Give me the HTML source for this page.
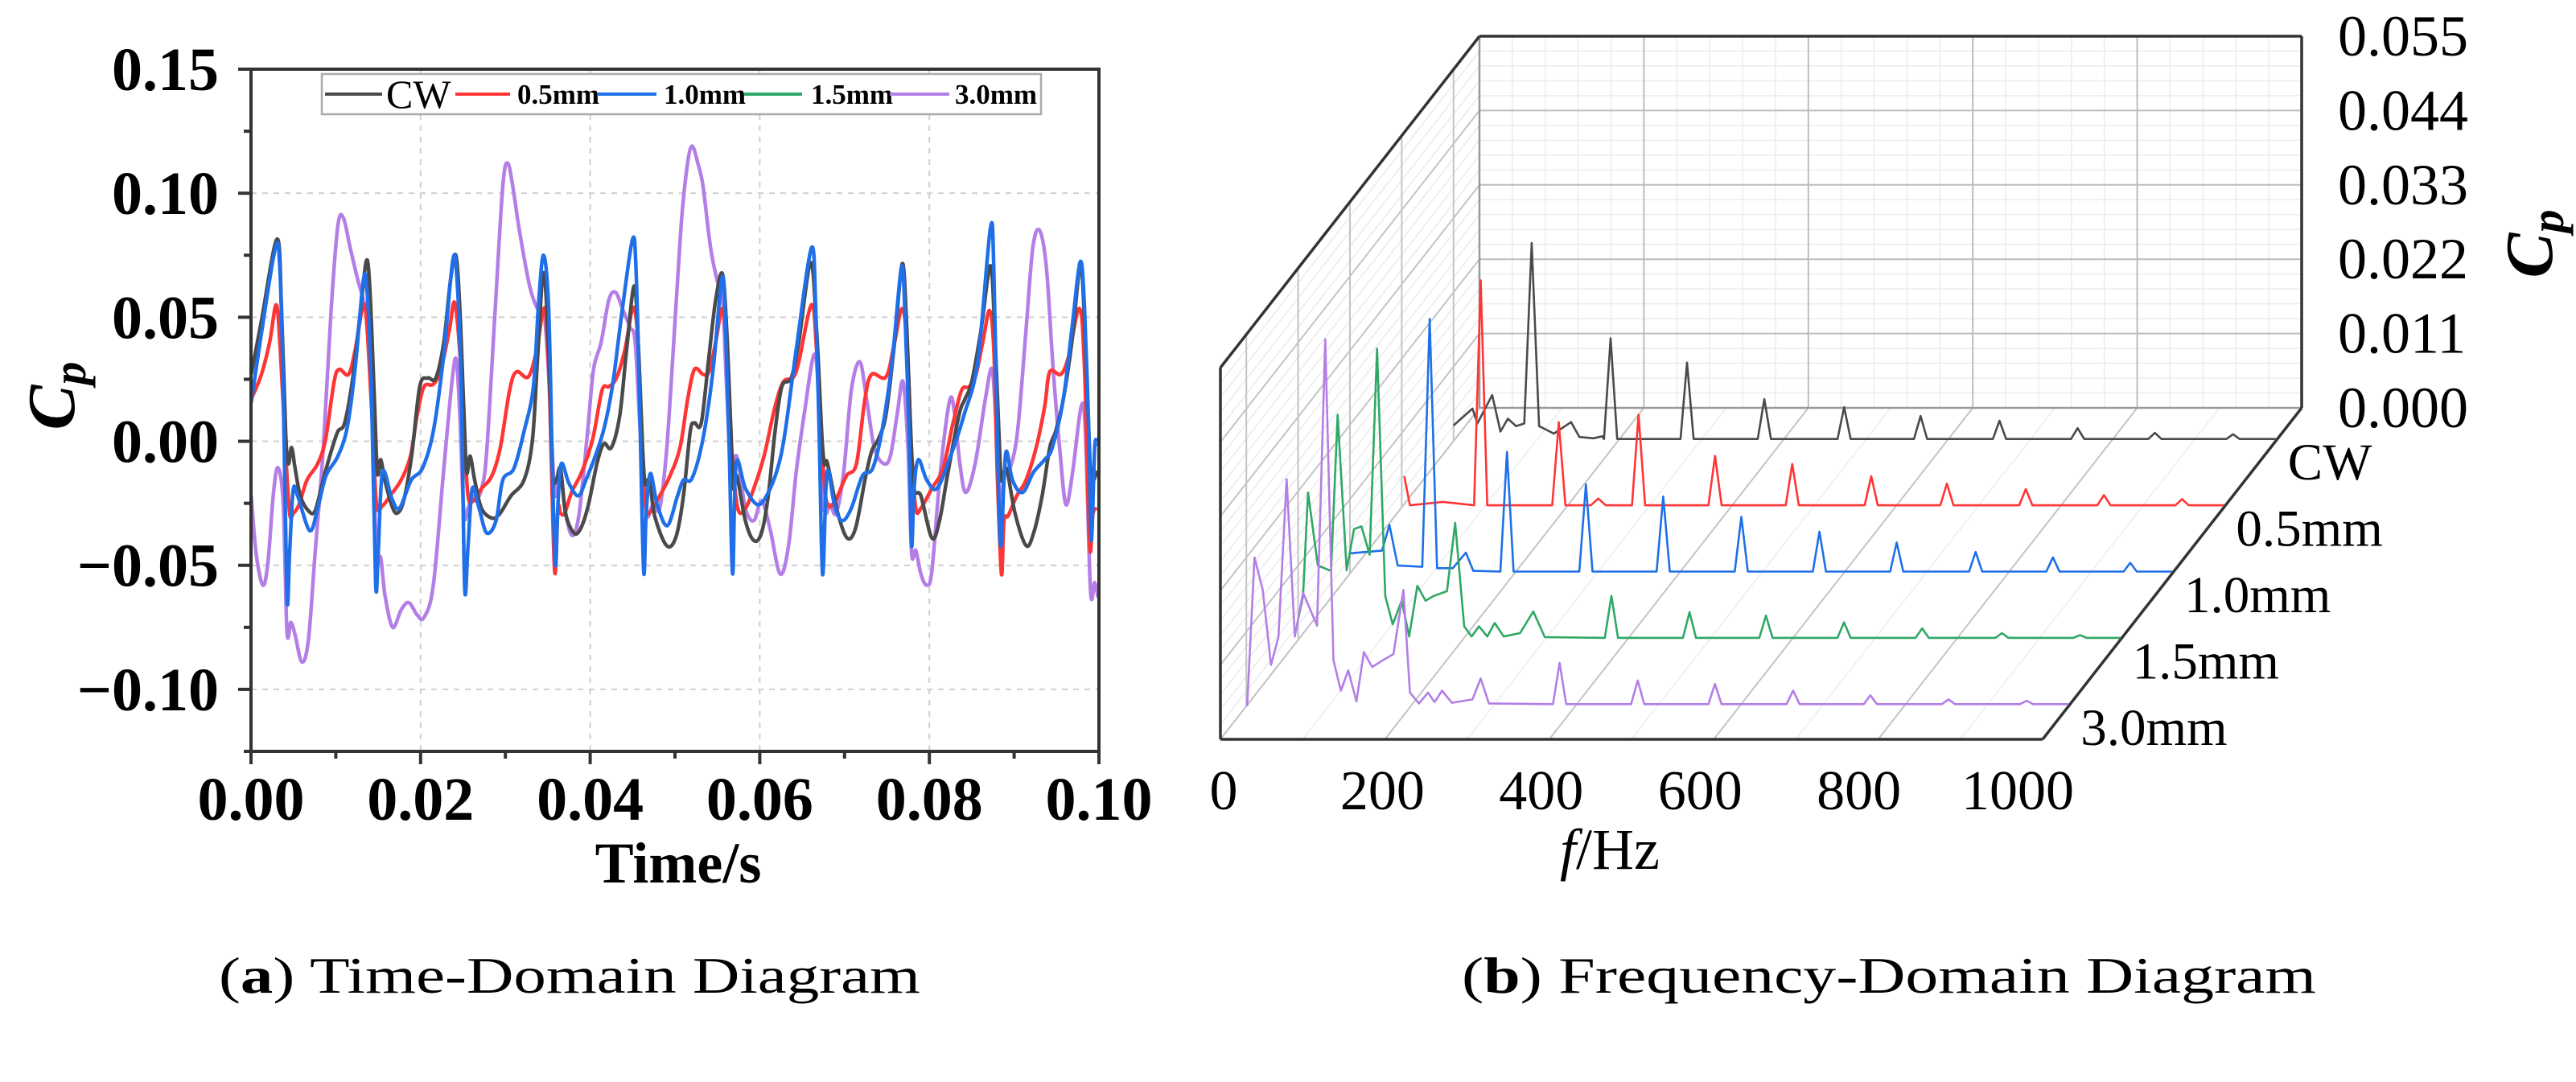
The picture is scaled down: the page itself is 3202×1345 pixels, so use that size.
<!DOCTYPE html>
<html><head><meta charset="utf-8"><title>Cp time and frequency domain</title>
<style>
html,body{margin:0;padding:0;background:#fff;}
svg{display:block;}
.serif{font-family:"Liberation Serif","DejaVu Serif",serif;}
</style></head>
<body>
<svg id="fig" width="3202" height="1345" viewBox="0 0 3202 1345" xmlns="http://www.w3.org/2000/svg" class="serif">
<rect x="0" y="0" width="3202" height="1345" fill="#fff"/>
<defs><clipPath id="plotClip"><rect x="312" y="86" width="1054" height="848"/></clipPath></defs>
<g id="left"></g>
<g id="right"></g>
<text x="272" y="1234" font-size="64" textLength="872" lengthAdjust="spacingAndGlyphs">(<tspan font-weight="bold">a</tspan>) Time-Domain Diagram</text>
<text x="1817" y="1234" font-size="64" textLength="1062" lengthAdjust="spacingAndGlyphs">(<tspan font-weight="bold">b</tspan>) Frequency-Domain Diagram</text>
</svg>
<script>
// ---------- Time-domain data (t in ms, Cp) ----------
const seriesNames = ["CW","0.5mm","1.0mm","1.5mm","3.0mm"];
const xTicks = [0,0.02,0.04,0.06,0.08,0.10];
const xTickLabels = ["0.00","0.02","0.04","0.06","0.08","0.10"];
const yTicks = [0.15,0.10,0.05,0.00,-0.05,-0.10];
const yTickLabels = ["0.15","0.10","0.05","0.00","\u22120.05","\u22120.10"];

const cwT = [0.03,1.23,3.07,3.6,4.08,4.4,4.78,5.19,5.82,6.77,7.56,8.51,9.46,10.25,11.04,12.0,12.94,13.63,14.04,14.52,14.9,15.3,15.78,16.57,17.2,18.0,18.94,19.9,20.84,21.79,22.74,23.53,24.16,24.63,25.1,25.43,25.84,26.38,27.17,28.43,29.38,30.65,32.2,33.2,
33.8,34.5,35.1,35.55,36.0,36.5,37.1,38.1,38.9,39.8,40.8,41.6,42.5,43.5,44.3,45.2,45.7,46.2,46.5,47.0,47.6,49.0,50.1,51.0,51.8,52.3,53.1,54.0,54.8,55.6,56.1,56.6,56.9,57.3,58.3,59.3,60.2,61.0,61.8,62.6,63.7,64.6,66.0,66.7,67.3,67.6,
67.9,68.4,69.2,70.3,71.3,72.4,73.2,74.0,74.9,75.9,76.8,77.3,77.8,78.2,79.0,80.3,81.2,82.2,83.5,84.2,85.0,86.1,87.2,87.7,88.2,88.5,89.1,90.1,91.4,92.3,93.3,94.2,94.9,95.8,96.8,97.8,98.3,98.8,99.1,99.8];
const cwV = [0.027,0.0486,0.0815,0.0535,0.004,-0.009,-0.0025,-0.0107,-0.022,-0.028,-0.028,-0.0156,-0.004,0.004,0.0074,0.0255,0.0535,0.073,0.06,0.02,-0.0124,-0.0074,-0.0156,-0.0255,-0.029,-0.024,-0.006,0.022,0.0255,0.0255,0.040,0.065,0.075,0.0535,0.0124,-0.0124,-0.006,-0.0156,-0.027,-0.031,-0.029,-0.022,-0.0156,0.0008,
0.034,0.068,0.037,-0.012,-0.0156,-0.011,-0.029,-0.037,-0.035,-0.0255,-0.009,-0.001,-0.0025,0.0107,0.037,0.0626,0.037,-0.004,-0.0173,-0.0156,-0.030,-0.042,-0.0387,-0.022,0.004,0.0074,0.0074,0.034,0.057,0.0675,0.045,0.004,-0.019,-0.014,-0.032,-0.040,-0.037,-0.022,0.004,0.022,0.0255,0.040,0.072,0.045,0.004,-0.009,
-0.008,-0.0156,-0.029,-0.039,-0.035,-0.0156,-0.004,0.001,0.011,0.040,0.0716,0.0486,0.004,-0.019,-0.022,-0.039,-0.032,-0.0124,0.0107,0.017,0.024,0.045,0.0708,0.045,0.004,-0.0156,-0.011,-0.029,-0.042,-0.037,-0.022,-0.0025,0.004,0.017,0.040,0.0708,0.0486,0.004,-0.0156,-0.012];

const redT = [0.03,1.23,2.2,2.98,3.45,4.08,4.55,5.0,5.66,6.6,7.87,8.8,9.8,10.4,11.5,12.3,13.25,13.7,14.36,14.8,15.5,16.4,17.7,18.8,19.6,20.4,21.5,22.4,23.4,24.0,24.6,25.1,25.6,26.2,27.2,28.4,29.4,30.5,31.3,32.7,33.7,34.4,
34.8,35.2,35.8,36.2,36.5,37.0,37.8,39.0,40.3,41.4,42.2,43.1,44.1,45.1,45.7,46.1,46.6,47.2,48.2,49.4,50.6,51.5,52.3,53.3,54.0,54.8,55.6,56.1,56.7,57.4,58.3,59.3,60.5,61.8,62.8,63.9,64.6,66.1,66.7,67.5,68.0,
68.9,70.2,71.4,72.4,73.2,74.9,75.9,76.8,77.4,77.9,78.4,79.0,80.3,81.6,82.8,83.8,84.7,85.5,86.3,87.1,87.6,88.0,88.5,88.8,89.3,90.3,91.4,92.6,93.6,94.2,95.5,96.4,97.7,98.3,98.9,99.3,99.8];
const redV = [0.017,0.027,0.040,0.055,0.037,-0.004,-0.029,-0.029,-0.0255,-0.0156,-0.009,0.001,0.024,0.029,0.027,0.037,0.055,0.045,0.004,-0.0255,-0.026,-0.022,-0.0156,-0.006,0.0107,0.022,0.023,0.029,0.045,0.056,0.037,0.004,-0.022,-0.024,-0.019,-0.014,-0.0025,0.0206,0.028,0.026,0.037,0.052,
0.050,0.0206,-0.052,-0.027,-0.029,-0.029,-0.0206,-0.0124,0.001,0.0206,0.022,0.0255,0.037,0.054,0.037,-0.004,-0.027,-0.028,-0.022,-0.014,-0.0025,0.017,0.029,0.027,0.028,0.040,0.0535,0.037,-0.004,-0.027,-0.027,-0.019,-0.006,0.014,0.024,0.0255,0.032,0.055,0.037,-0.012,-0.0255,
-0.024,-0.014,-0.009,0.017,0.027,0.026,0.040,0.0535,0.037,-0.004,-0.027,-0.027,-0.019,-0.011,0.0074,0.0206,0.022,0.027,0.040,0.0527,0.037,-0.012,-0.0535,-0.032,-0.030,-0.022,-0.0156,-0.0025,0.014,0.028,0.027,0.034,0.0535,0.029,-0.042,-0.029,-0.027];

const blueT = [0.03,1.23,2.88,3.4,3.8,4.24,4.55,4.97,5.5,6.93,7.87,8.83,10.25,11.36,12.3,13.25,13.7,14.2,14.7,15.0,15.5,16.6,17.5,18.9,20.2,21.5,22.7,23.8,24.3,24.8,25.2,25.6,26.1,26.9,27.8,28.9,29.7,31.0,32.2,
33.3,33.9,34.5,35.1,35.55,35.9,36.2,36.6,37.5,38.6,39.5,40.6,41.7,42.7,43.8,45.0,45.4,45.8,46.3,46.6,47.1,47.9,49.1,50.3,51.0,52.0,53.3,54.5,55.5,55.9,56.4,56.8,57.2,58.3,59.7,60.8,62.1,63.0,64.3,66.1,
66.6,67.0,67.4,67.8,68.1,68.8,69.7,70.8,72.1,73.3,74.4,75.6,76.7,77.1,77.6,77.9,78.2,78.7,79.7,80.9,82.5,84.1,85.7,87.2,87.6,88.0,88.4,88.8,89.1,89.8,91.0,92.3,93.6,94.5,95.8,96.8,97.8,98.3,98.8,99.1,99.5,99.8];
const blueV = [0.0156,0.0436,0.078,0.070,0.0206,-0.063,-0.045,-0.0198,-0.022,-0.036,-0.027,-0.014,-0.006,0.0058,0.030,0.065,0.060,0.0206,-0.057,-0.045,-0.0124,-0.023,-0.027,-0.0156,-0.011,0.004,0.034,0.073,0.065,0.0206,-0.059,-0.042,-0.019,-0.027,-0.037,-0.032,-0.0156,-0.011,0.004,
0.022,0.055,0.075,0.0535,-0.012,-0.050,-0.0255,-0.009,-0.017,-0.022,-0.0156,-0.006,0.006,0.024,0.0535,0.0815,0.070,0.0206,-0.052,-0.029,-0.013,-0.0255,-0.034,-0.022,-0.0156,-0.015,0.001,0.029,0.065,0.0535,-0.004,-0.0535,-0.009,-0.019,-0.0255,-0.022,-0.011,0.004,0.037,0.078,
0.0535,0.004,-0.0535,-0.019,-0.012,-0.0255,-0.032,-0.027,-0.014,-0.011,0.004,0.032,0.070,0.0535,0.004,-0.042,-0.019,-0.0074,-0.0156,-0.019,-0.006,0.0107,0.032,0.086,0.070,0.004,-0.042,-0.0156,-0.004,-0.0156,-0.0206,-0.0124,-0.0074,-0.0025,0.017,0.045,0.0724,0.0535,0.004,-0.040,-0.0025,-0.001];

const purT = [0.03,0.6,1.4,2.0,2.66,3.2,3.8,4.24,4.7,5.2,6.0,6.77,7.56,8.5,9.46,10.25,10.9,11.7,12.6,13.4,13.9,14.36,14.8,15.3,15.8,16.7,17.7,18.6,19.6,20.4,21.5,22.7,23.7,24.2,24.6,25.1,25.6,26.1,26.5,27.2,27.8,28.8,29.7,30.3,31.0,31.6,32.9,34.0,
34.6,35.2,35.7,36.0,36.5,37.1,37.9,38.7,39.7,40.4,41.3,42.2,43.0,43.8,44.7,45.3,45.9,46.6,47.4,48.2,49.0,49.8,50.7,51.4,52.0,52.7,53.3,54.2,55.1,55.6,56.1,56.6,57.1,57.5,58.3,59.3,60.2,61.2,62.4,63.4,64.3,65.3,66.4,66.9,67.3,67.8,
68.3,69.0,69.9,70.8,71.8,72.6,73.5,74.6,75.4,76.2,76.9,77.5,77.9,78.4,79.0,79.7,80.3,81.3,82.4,83.0,83.6,84.3,85.4,86.6,87.4,87.9,88.4,88.8,89.5,90.4,91.4,92.2,93.0,93.8,94.6,95.4,96.1,96.9,97.9,98.4,99.0,99.5,99.9];
const purV = [-0.022,-0.045,-0.058,-0.0486,-0.0206,-0.0107,-0.0255,-0.0766,-0.073,-0.078,-0.089,-0.080,-0.045,-0.004,0.0535,0.087,0.090,0.078,0.065,0.055,0.0436,0.004,-0.045,-0.047,-0.062,-0.075,-0.068,-0.065,-0.070,-0.071,-0.058,-0.0124,0.024,0.033,0.0124,-0.029,-0.027,-0.022,-0.024,-0.019,-0.004,0.0535,0.103,0.112,0.100,0.086,0.062,0.052,
0.051,0.0206,-0.0156,-0.022,-0.0124,-0.029,-0.038,-0.029,0.004,0.029,0.040,0.057,0.060,0.0535,0.046,0.040,0.004,-0.029,-0.0255,-0.027,-0.004,0.037,0.086,0.110,0.119,0.112,0.103,0.078,0.063,0.058,0.0206,-0.0124,-0.006,-0.009,-0.027,-0.032,-0.024,-0.035,-0.0535,-0.042,-0.0124,0.0124,0.035,0.0206,-0.0206,-0.029,
-0.0255,-0.029,-0.0124,0.0206,0.032,0.017,-0.0025,-0.009,-0.006,0.0107,0.024,-0.004,-0.045,-0.044,-0.0535,-0.058,-0.052,-0.0124,0.0165,0.0107,-0.009,-0.0206,-0.009,0.017,0.029,0.004,-0.029,-0.0124,-0.011,0.004,0.045,0.078,0.085,0.070,0.029,-0.004,-0.0255,-0.0124,0.014,0.004,-0.060,-0.057,-0.063];

// ---------- Frequency-domain data (f in Hz, Cp amplitude) ----------
const zTicks = [0.000,0.011,0.022,0.033,0.044,0.055];
const zTickLabels = ["0.000","0.011","0.022","0.033","0.044","0.055"];
const fTicks = [0,200,400,600,800,1000];
const seriesDepth = [0.9,0.7,0.5,0.3,0.1];

const cwNoiseF = [0,23,29,47,57,66,76,86,95,104,122,143,153,170,181];
const cwNoiseA = [0.0023,0.0048,0.0026,0.0068,0.0014,0.0033,0.0022,0.0026,0.0293,0.0022,0.0011,0.0028,0.0006,0.0004,0.0007];
const cwPeakF = [191,284,378,475,568,664,759,853,948];
const cwPeakA = [0.0152,0.0116,0.0062,0.005,0.0037,0.003,0.0019,0.0012,0.001];

const redNoiseF = [3,10,50,88,96,104,230,239,248];
const redNoiseA = [0.0046,0.0003,0.0008,0.0003,0.0336,0.0003,0.0003,0.0013,0.0003];
const redPeakF = [191,288,381,475,571,663,759,854,949];
const redPeakA = [0.0126,0.0137,0.0076,0.0064,0.0046,0.0035,0.0027,0.0018,0.0012];

const blueNoiseF = [0,39,48,58,88,97,106,125,141,150];
const blueNoiseA = [0.003,0.0034,0.0072,0.0012,0.001,0.0377,0.0008,0.0008,0.0031,0.0004];
const bluePeakF = [191,287,381,476,571,665,761,855,949];
const bluePeakA = [0.018,0.0132,0.0114,0.0084,0.0062,0.0046,0.0032,0.0024,0.0016];

const greenNoiseF = [0,6,12,24,40,48,59,68,77,87,96,106,115,126,135,145,155,165,181,191,202,211,220,230,239,250,270,286,300];
const greenNoiseA = [0.003,0.0065,0.0218,0.011,0.0102,0.0333,0.0103,0.0164,0.0168,0.0126,0.0431,0.0065,0.0023,0.0058,0.0005,0.008,0.0058,0.0065,0.0072,0.0173,0.002,0.0005,0.002,0.0005,0.0025,0.0005,0.001,0.0042,0.0004];
const greenPeakF = [381,476,569,664,759,856,951];
const greenPeakA = [0.0065,0.0041,0.0036,0.0026,0.0017,0.001,0.0007];

const purNoiseF = [1,10,20,30,39,49,59,69,77,86,96,106,115,124,134,143,153,166,179,191,199,210,221,229,238,250,275,285,295];
const purNoiseA = [0,0.022,0.0172,0.0061,0.0102,0.0336,0.0103,0.0168,0.0145,0.0119,0.0543,0.0068,0.0023,0.0053,0.0007,0.008,0.0058,0.0068,0.0077,0.0172,0.002,0.0004,0.002,0.0006,0.0023,0.0005,0.001,0.0041,0.0004];
const purPeakF = [381,476,570,665,759,854,949];
const purPeakA = [0.0064,0.0038,0.0033,0.0023,0.0016,0.001,0.0008];

const colors = {"CW":"#4a4a4a","0.5mm":"#ff3535","1.0mm":"#1f6fe8","1.5mm":"#2fa866","3.0mm":"#b47ee6"};
const NS = "http://www.w3.org/2000/svg";
function mk(tag, attrs, parent){const e=document.createElementNS(NS,tag);for(const k in attrs)e.setAttribute(k,attrs[k]);parent.appendChild(e);return e;}

// ================= LEFT CHART =================
const L = document.getElementById('left');
const PX0=312, PX1=1366, PY0=86, PY1=934;
const xS = t => PX0 + (t/0.1)*(PX1-PX0);          // t in seconds
const yS = v => PY0 + (0.15 - v)/(0.275)*(PY1-PY0);

// grid
const grid = mk('g',{},L);


yTicks.forEach(v=>{ if(v<0.15) mk('line',{x1:PX0,x2:PX1,y1:yS(v),y2:yS(v),stroke:'#cfcfcf','stroke-width':2,'stroke-dasharray':'7,7'},grid);});
xTicks.forEach(t=>{ if(t>0 && t<0.1) mk('line',{x1:xS(t),x2:xS(t),y1:PY0,y2:PY1,stroke:'#cfcfcf','stroke-width':2,'stroke-dasharray':'7,7'},grid);});

// series
const sg = mk('g',{'clip-path':'url(#plotClip)'},L);


function smoothPath(xs, ys){
  let d='M'+xs[0].toFixed(1)+','+ys[0].toFixed(1);
  for(let i=0;i<xs.length-1;i++){
    const x0=xs[Math.max(i-1,0)],y0=ys[Math.max(i-1,0)],x1=xs[i],y1=ys[i],x2=xs[i+1],y2=ys[i+1],x3=xs[Math.min(i+2,xs.length-1)],y3=ys[Math.min(i+2,xs.length-1)];
    const c1x=x1+(x2-x0)/6, c1y=y1+(y2-y0)/6, c2x=x2-(x3-x1)/6, c2y=y2-(y3-y1)/6;
    d+=' C'+c1x.toFixed(1)+','+c1y.toFixed(1)+' '+c2x.toFixed(1)+','+c2y.toFixed(1)+' '+x2.toFixed(1)+','+y2.toFixed(1);
  }
  return d;
}
function drawTime(T,V,name,key){
  const n=Math.min(T.length,V.length);
  const xs=[],ys=[];
  for(let i=0;i<n;i++){xs.push(xS(T[i]/1000));ys.push(yS(V[i]));}
  const p=mk('path',{d:smoothPath(xs,ys),fill:'none',stroke:colors[key],'stroke-width':4.5,'stroke-linejoin':'round'},sg);
  
  
}
drawTime(purT,purV,'line-3-0mm','3.0mm');
drawTime(redT,redV,'line-0-5mm','0.5mm');
drawTime(cwT,cwV,'line-cw','CW');
drawTime(blueT,blueV,'line-1-0mm','1.0mm');

// frame
const frame = mk('rect',{x:PX0,y:PY0,width:PX1-PX0,height:PY1-PY0,fill:'none',stroke:'#333','stroke-width':4},L);



// y ticks & labels
const yax = mk('g',{},L);


for(let k=0;k<=11;k++){const v=0.15-k*0.025; if(v<-0.1251) break;
  const major = Math.abs((v*1000)%50)<1e-6 || Math.abs(Math.abs((v*1000)%50)-50)<1e-6;
  mk('line',{x1:PX0-(major?16:9),x2:PX0,y1:yS(v),y2:yS(v),stroke:'#333','stroke-width':4},yax);}
yTicks.forEach((v,i)=>{
  const t=mk('text',{x:272,y:yS(v)+26,'text-anchor':'end','font-size':76,'font-weight':'bold',fill:'#000'},yax);
  t.textContent=yTickLabels[i];
  
  
});
// x ticks & labels
const xax = mk('g',{},L);


for(let k=0;k<=10;k++){const t=k*0.01; mk('line',{x1:xS(t),x2:xS(t),y1:PY1,y2:PY1+(k%2===0?16:9),stroke:'#333','stroke-width':4},xax);}
xTicks.forEach((v,i)=>{
  const t=mk('text',{x:xS(v),y:1019,'text-anchor':'middle','font-size':76,'font-weight':'bold',fill:'#000'},xax);
  t.textContent=xTickLabels[i];
  
  
});
const xt = mk('text',{x:843,y:1097,'text-anchor':'middle','font-size':72,'font-weight':'bold'},L);
xt.textContent='Time/s';


const yt = mk('text',{x:0,y:0,'text-anchor':'middle','font-size':84,'font-weight':'bold','font-style':'italic',transform:'translate(92,492) rotate(-90)'},L);
yt.innerHTML='C<tspan font-size="58" dy="14">p</tspan>';



// legend
const lg = mk('g',{},L);


mk('rect',{x:400,y:92,width:894,height:50,fill:'#fff',stroke:'#aaa','stroke-width':2.5},lg);
const legendLineX = [404,566,742,925,1106];
const legendLineW = [71,68,74,72,74];
const legendTextX = [480,643,825,1008,1187];
seriesNames.forEach((s,i)=>{
  const ln=mk('line',{x1:legendLineX[i],x2:legendLineX[i]+legendLineW[i],y1:117,y2:117,stroke:colors[s],'stroke-width':4},lg);
  
  
  const tx=mk('text',{x:legendTextX[i],y:i===0?134:129,'font-size':i===0?50:35,'font-weight':i===0?'normal':'bold'},lg);
  tx.textContent=s;
  
  
});

// ================= RIGHT CHART =================
const R = document.getElementById('right');
const OX=1517, OY=919, FW=1.022, DX=322, DY=412, ZS=8400;
const P = (f,d,z) => [OX + f*FW + d*DX, OY - d*DY - z*ZS];
function seg(a,b,st,w,parent){return mk('line',{x1:a[0],y1:a[1],x2:b[0],y2:b[1],stroke:st,'stroke-width':w},parent);}

const rg = mk('g',{},R);


// back wall minor
for(let f=0;f<=1000;f+=40) seg(P(f,1,0),P(f,1,0.055),'#ececec',1.5,rg);
for(let z=0;z<=0.0551;z+=0.0022) seg(P(0,1,z),P(1000,1,z),'#ececec',1.5,rg);
// left wall minor diagonals
for(let z=0;z<=0.0551;z+=0.0022) seg(P(0,0,z),P(0,1,z),'#eaeaea',1.5,rg);
// back wall major
fTicks.forEach(f=>seg(P(f,1,0),P(f,1,0.055),'#bdbdbd',2,rg));
zTicks.forEach(z=>seg(P(0,1,z),P(1000,1,z),'#bdbdbd',2,rg));
// left wall major
zTicks.forEach(z=>seg(P(0,0,z),P(0,1,z),'#c4c4c4',2,rg));
seriesDepth.forEach(d=>seg(P(0,d,0),P(0,d,0.055),'#c4c4c4',2,rg));
// floor diagonals
fTicks.forEach(f=>seg(P(f,0,0),P(f,1,0),'#c4c4c4',2,rg));
for(let f=100;f<1000;f+=200) seg(P(f,0,0),P(f,1,0),'#ececec',1.5,rg);
seg(P(0,1,0),P(0,1,0.055),'#999',2.5,rg);
seg(P(0,1,0),P(1000,1,0),'#999',2.5,rg);

// frame
const fr = mk('g',{},R);


seg(P(0,0,0),P(0,0,0.055),'#333',3.5,fr);
seg(P(0,0,0.055),P(0,1,0.055),'#333',3.5,fr);
seg(P(0,1,0.055),P(1000,1,0.055),'#333',3.5,fr);
seg(P(1000,1,0.055),P(1000,1,0),'#333',3.5,fr);
seg(P(1000,1,0),P(1000,0,0),'#333',3.5,fr);
seg(P(1000,0,0),P(0,0,0),'#333',3.5,fr);

// spectra
function buildSpec(nf,na,pf,pa){
  const base=0.0003, pts=[];
  const n1=Math.min(nf.length,na.length);
  for(let i=0;i<n1;i++) pts.push([nf[i],na[i]]);
  const n2=Math.min(pf.length,pa.length);
  for(let i=0;i<n2;i++){pts.push([pf[i]-8,base]);pts.push([pf[i],pa[i]]);pts.push([pf[i]+8,base]);}
  pts.push([1000,base]);
  pts.sort((a,b)=>a[0]-b[0]);
  return pts;
}
const specs = [
  ['CW', buildSpec(cwNoiseF,cwNoiseA,cwPeakF,cwPeakA)],
  ['0.5mm', buildSpec(redNoiseF,redNoiseA,redPeakF,redPeakA)],
  ['1.0mm', buildSpec(blueNoiseF,blueNoiseA,bluePeakF,bluePeakA)],
  ['1.5mm', buildSpec(greenNoiseF,greenNoiseA,greenPeakF,greenPeakA)],
  ['3.0mm', buildSpec(purNoiseF,purNoiseA,purPeakF,purPeakA)]
];
specs.forEach((s,i)=>{
  const d=seriesDepth[i];
  const pts=s[1].map(p=>P(p[0],d,p[1]));
  const pl=mk('polyline',{points:pts.map(p=>p[0].toFixed(1)+','+p[1].toFixed(1)).join(' '),fill:'none',stroke:colors[s[0]],'stroke-width':2.6,'stroke-linejoin':'round'},R);
  
  
  const edge=P(1000,d,0);
  const lb=mk('text',{x:edge[0]+15,y:edge[1]+48,'font-size':65},R);
  lb.textContent=s[0];
  
  
});

// z tick labels
zTicks.forEach((z,i)=>{
  const p=P(1000,1,z);
  const t=mk('text',{x:2906,y:p[1]+24,'font-size':72},R);
  t.textContent=zTickLabels[i];
  
  
});
// f tick labels
fTicks.forEach(f=>{
  const t=mk('text',{x:1521+f*0.987,y:1006,'text-anchor':'middle','font-size':70},R);
  t.textContent=String(f);
  
  
});
const ft=mk('text',{x:2001,y:1080,'text-anchor':'middle','font-size':72},R);
ft.innerHTML='<tspan font-style="italic">f</tspan>/Hz';


const ct=mk('text',{x:0,y:0,'text-anchor':'middle','font-size':84,'font-weight':'bold','font-style':'italic',transform:'translate(3172,303) rotate(-90)'},R);
ct.innerHTML='C<tspan font-size="58" dy="14">p</tspan>';


</script>
</body></html>
